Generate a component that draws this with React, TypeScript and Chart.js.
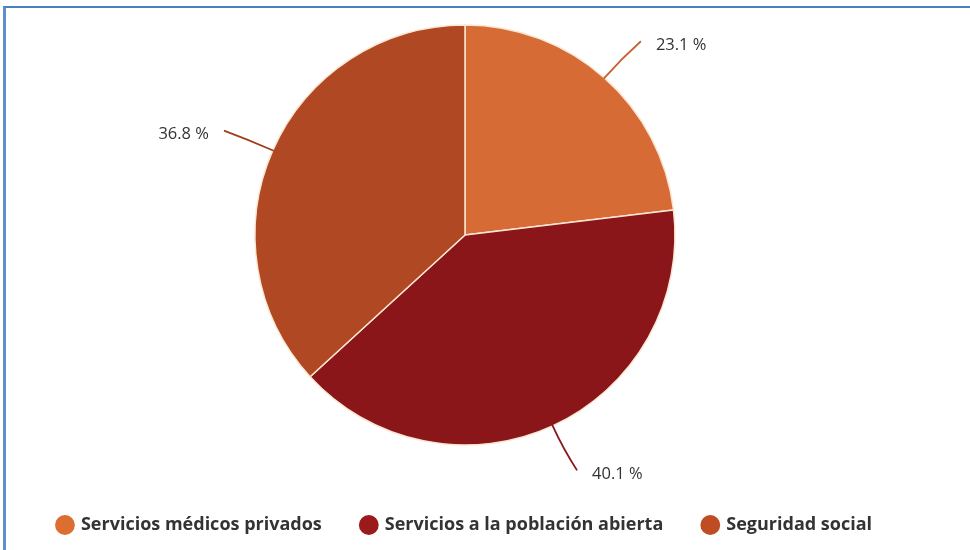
import React, { useEffect, useRef } from "react";
import { Chart, registerables } from "chart.js";
Chart.register(...registerables);

const categories = ["Servicios médicos privados", "Servicios a la población abierta", "Seguridad social"];
const values = [23.1, 40.1, 36.8];
const valueLabels = ["23.1 %", "40.1 %", "36.8 %"];
const sliceColors = ["#D76B36", "#8A161A", "#B04823"];
const legendColors = ["#DD6E31", "#9B1B1C", "#BF4C22"];
const leaderColors = ["#C8622F", "#8A161A", "#9E3F1E"];

const labelPlugin = {
  id: "leaderLabels",
  afterDatasetsDraw(chart: any) {
    const ctx = chart.ctx;
    const meta = chart.getDatasetMeta(0);
    meta.data.forEach((arc: any, i: number) => {
      const { x, y, startAngle, endAngle, outerRadius } = arc.getProps(
        ["x", "y", "startAngle", "endAngle", "outerRadius"],
        true
      );
      const mid = (startAngle + endAngle) / 2;
      const cos = Math.cos(mid);
      const sin = Math.sin(mid);
      const r0 = outerRadius - 1;
      const x0 = x + cos * r0;
      const y0 = y + sin * r0;
      const rc = outerRadius + 26;
      const xc = x + cos * rc;
      const yc = y + sin * rc;
      const re = outerRadius + 49;
      const right = cos >= 0;
      const xe = x + cos * re + (right ? 4 : -4);
      const ye = y + sin * re;
      ctx.save();
      ctx.strokeStyle = leaderColors[i];
      ctx.lineWidth = 1.8;
      ctx.beginPath();
      ctx.moveTo(x0, y0);
      ctx.quadraticCurveTo(xc, yc, xe, ye);
      ctx.stroke();
      ctx.fillStyle = "#333333";
      ctx.font = "16.5px 'Open Sans'";
      ctx.textBaseline = "middle";
      ctx.textAlign = right ? "left" : "right";
      ctx.fillText(valueLabels[i], xe + (right ? 15 : -15), ye + 4);
      ctx.restore();
    });
  },
};

export default function App() {
  const ref = useRef<HTMLCanvasElement>(null);
  useEffect(() => {
    const chart = new Chart(ref.current as HTMLCanvasElement, {
      type: "pie",
      data: {
        labels: categories,
        datasets: [
          {
            data: values,
            backgroundColor: sliceColors,
            borderColor: "#FBE6D2",
            borderWidth: 1.5,
          },
        ],
      },
      options: {
        animation: false,
        responsive: false,
        events: [],
        radius: 210,
        layout: { padding: { left: 0, right: 40, top: 0, bottom: 6 } },
        plugins: {
          tooltip: { enabled: false },
          legend: {
            position: "bottom",
            labels: {
              usePointStyle: true,
              pointStyle: "circle",
              boxHeight: 14,
              boxWidth: 14,
              padding: 40,
              color: "#333333",
              font: { family: "'Open Sans'", size: 18, weight: "bold" },
              generateLabels: (c: any) =>
                (Chart as any).overrides.pie.plugins.legend.labels
                  .generateLabels(c)
                  .map((l: any, i: number) => ({
                    ...l,
                    fillStyle: legendColors[i],
                    strokeStyle: legendColors[i],
                    lineWidth: 0,
                    pointStyle: "circle",
                  })),
            },
          },
        },
      } as any,
      plugins: [labelPlugin],
    });
    return () => chart.destroy();
  }, []);

  return (
    <div
      style={{
        position: "fixed",
        left: 0,
        top: 0,
        width: 970,
        height: 550,
        overflow: "hidden",
        background: "#ffffff",
      }}
    >
      <canvas
        ref={ref}
        width={970}
        height={556}
        style={{ position: "absolute", left: 0, top: -6, width: 970, height: 556 }}
      />
      <div
        style={{
          position: "absolute",
          left: 3,
          top: 6,
          width: 1000,
          height: 600,
          borderTop: "2px solid #4A7EBF",
          borderLeft: "3px solid #5F8FCC",
          pointerEvents: "none",
        }}
      />
    </div>
  );
}
